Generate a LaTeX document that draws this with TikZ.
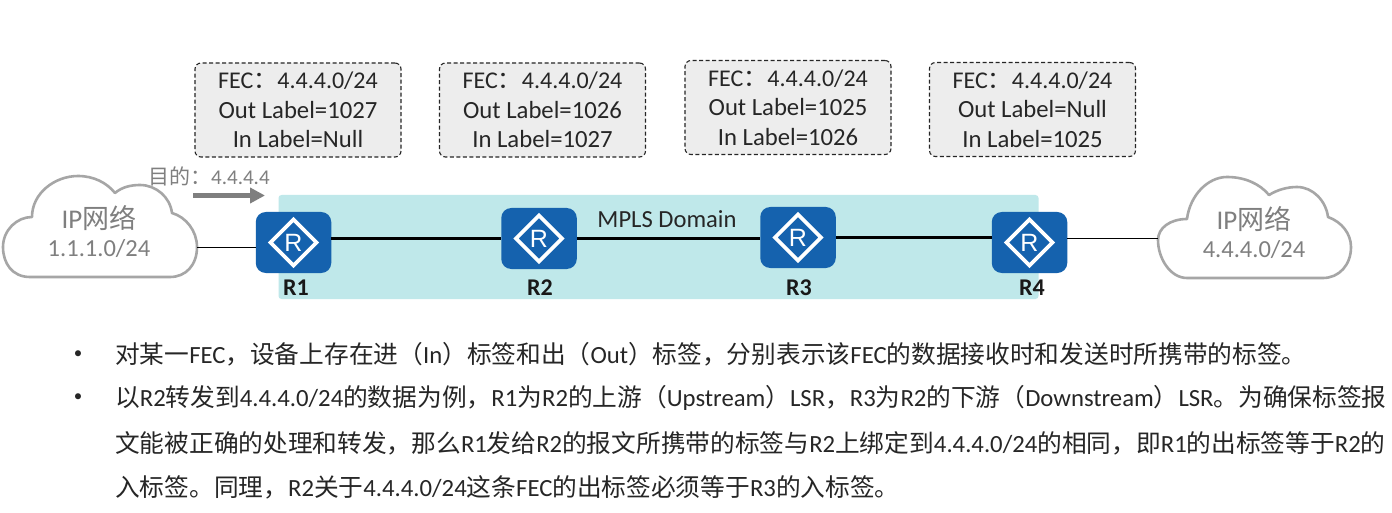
\documentclass[tikz,border=0pt]{standalone}
\usepackage{fontspec}
\setmainfont{Carlito}
\newfontfamily\cjk{Noto Sans CJK SC}
\newfontfamily\arialish{Liberation Sans}
\newcommand{\zh}[1]{{\cjk #1}}
\usetikzlibrary{arrows.meta}
\definecolor{band}{HTML}{BFE8EA}
\definecolor{routerblue}{HTML}{1562AE}
\definecolor{cloudgray}{HTML}{A6A6A6}
\definecolor{graytext}{HTML}{7F7F7F}
\definecolor{darktext}{HTML}{262626}
\tikzset{
  x=1pt,y=-1pt,
  labelbox/.style={draw=black!85,dashed,dash pattern=on 4pt off 2.5pt,line width=1.1pt,fill=black!7,rounded corners=6pt,
    minimum width=206pt,minimum height=94pt,align=center,inner sep=0pt,font=\fontsize{24.7}{29.5}\selectfont,text=darktext},
  router/.style={fill=routerblue,rounded corners=10pt,minimum width=75.5pt,minimum height=61pt,inner sep=0pt},
  routername/.style={font=\fontsize{24}{26}\selectfont\bfseries,text=black!90,inner sep=0pt},
  cloudline/.style={draw=cloudgray,line width=2.6pt,fill=white,line join=round},
  cloudtext/.style={align=center,text=graytext,inner sep=0pt},
  link/.style={draw=black,line width=2.2pt},
  edgelink/.style={draw=black,line width=1pt},
  para/.style={anchor=west,inner sep=0pt,text=darktext,font=\fontsize{24.7}{28}\selectfont},
  bulletdot/.style={anchor=center,inner sep=0pt,text=darktext,font=\fontsize{17}{20}\selectfont}
}
\newcommand{\routerglyph}[2]{%
  \draw[white,line width=3.6pt,line join=miter] ([yshift=23pt]#1.center) -- ([xshift=23pt]#1.center) -- ([yshift=-23pt]#1.center) -- ([xshift=-23pt]#1.center) -- cycle;
  \node[text=white,inner sep=0pt,font=\arialish\fontsize{25}{25}\selectfont] (#2) at (#1.center) {R};
}
\newcommand{\fecline}{{\fontsize{24}{29.5}\selectfont FEC\zh{：}4.4.4.0/24}}
\begin{document}
\begin{tikzpicture}
\useasboundingbox (0,0) rectangle (1392,513);
\fill[white] (0,0) rectangle (1392,513);

% MPLS band
\node[fill=band,rounded corners=3pt,minimum width=760pt,minimum height=104pt,inner sep=0pt] (band) at (658.5,247) {};
\node[inner sep=0pt,font=\fontsize{24.6}{28}\selectfont,text=darktext] (domain) at (667,219) {MPLS Domain};

% Clouds
\draw[cloudline] (30,277)
  .. controls (12,277) and (3,263) .. (3,247)
  .. controls (3,230) and (17,217) .. (32,217)
  .. controls (32,193) and (55,176) .. (78,176)
  .. controls (94,176) and (107,183) .. (115,193)
  .. controls (122,187) and (131,185) .. (140,185)
  .. controls (156,185) and (170,197) .. (172,213)
  .. controls (186,217) and (197,231) .. (197,247)
  .. controls (197,265) and (186,277) .. (170,277) -- cycle;
\coordinate (cloudAport) at (197,247);
\node[cloudtext,font=\fontsize{27}{30}\selectfont] (cloudAtitle) at (99,218) {IP\zh{网络}};
\node[cloudtext,font=\fontsize{24.5}{28}\selectfont] (cloudAnet) at (99,249) {1.1.1.0/24};

\draw[cloudline] (1187,278)
  .. controls (1170,278) and (1158,258) .. (1158,240)
  .. controls (1158,228) and (1170,219) .. (1187,219)
  .. controls (1190,195) and (1208,177) .. (1227,177)
  .. controls (1245,177) and (1260,184) .. (1269,195)
  .. controls (1277,190) and (1287,187) .. (1297,187)
  .. controls (1313,187) and (1326,201) .. (1328,217)
  .. controls (1342,222) and (1351,234) .. (1351,247)
  .. controls (1351,265) and (1339,278) .. (1323,278) -- cycle;
\coordinate (cloudBport) at (1158,239);
\node[cloudtext,font=\fontsize{27}{30}\selectfont] (cloudBtitle) at (1254,219) {IP\zh{网络}};
\node[cloudtext,font=\fontsize{24.5}{28}\selectfont] (cloudBnet) at (1254,250) {4.4.4.0/24};

% Routers
\node[router] (r1) at (293.5,242.5) {};
\node[router] (r2) at (539,238.5) {};
\node[router] (r3) at (798,237.5) {};
\node[router] (r4) at (1029.5,242.5) {};

% Connectors
\draw[edgelink] (cloudAport) -- (cloudAport -| r1.west);
\draw[link] (r1.east |- r2.east) -- (r2.west);
\draw[link] (r2.east) -- (r2.east -| r3.west);
\draw[link] (r3.east) -- (r3.east -| r4.west);
\draw[edgelink] (r4.east |- cloudBport) -- (cloudBport);

% Router icons
\routerglyph{r1}{r1g}
\routerglyph{r2}{r2g}
\routerglyph{r3}{r3g}
\routerglyph{r4}{r4g}
\node[routername] (r1n) at (296,288) {R1};
\node[routername] (r2n) at (540,288) {R2};
\node[routername] (r3n) at (799,288) {R3};
\node[routername] (r4n) at (1032,288) {R4};

% Label boxes
\node[labelbox] (b1) at (298,110) {\fecline\\Out Label=1027\\In Label=Null};
\node[labelbox] (b2) at (542.5,110) {\fecline\\Out Label=1026\\In Label=1027};
\node[labelbox] (b3) at (788,107.5) {\fecline\\Out Label=1025\\In Label=1026};
\node[labelbox] (b4) at (1032.5,109.5) {\fecline\\Out Label=Null\\In Label=1025};

% Destination
\node[anchor=west,inner sep=0pt,text=graytext,font=\fontsize{21}{24}\selectfont] (dest) at (148,176) {\zh{目的：}4.4.4.4};
\coordinate (arrowS) at (193,195.5);
\coordinate (arrowE) at (265,195.5);
\draw[graytext,line width=4.5pt,-{Triangle[length=15pt,width=15pt]}] (arrowS) -- (arrowE);

% Bullets
\node[bulletdot] (d1) at (78,355) {•};
\node[bulletdot] (d2) at (78,398) {•};
\node[para] (l1) at (115,354) {\zh{对某一}FEC\zh{，设备上存在进（}In\zh{）标签和出（}Out\zh{）标签，分别表示该}FEC\zh{的数据接收时和发送时所携带的标签。}};
\node[para] (l2) at (115,398) {\zh{以}R2\zh{转发到}4.4.4.0/24\zh{的数据为例，}R1\zh{为}R2\zh{的上游（}Upstream\zh{）}LSR\zh{，}R3\zh{为}R2\zh{的下游（}Downstream\zh{）}LSR\zh{。为确保标签报}};
\node[para] (l3) at (115,443) {\zh{文能被正确的处理和转发，那么}R1\zh{发给}R2\zh{的报文所携带的标签与}R2\zh{上绑定到}4.4.4.0/24\zh{的相同，即}R1\zh{的出标签等于}R2\zh{的}};
\node[para] (l4) at (115,487.5) {\zh{入标签。同理，}R2\zh{关于}4.4.4.0/24\zh{这条}FEC\zh{的出标签必须等于}R3\zh{的入标签。}};
\end{tikzpicture}
\end{document}
